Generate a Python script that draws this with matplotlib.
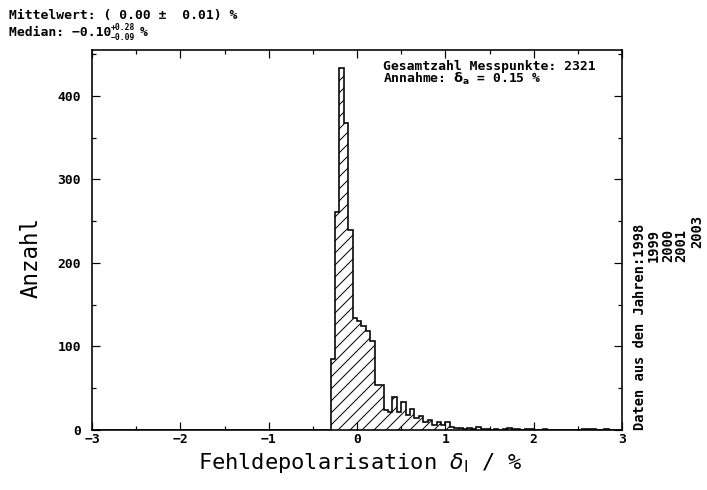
import numpy as np
import matplotlib
matplotlib.use("Agg")
import matplotlib.pyplot as plt
from matplotlib.ticker import MultipleLocator

bin_width = 0.05
x_min, x_max = -3.0, 3.0
first_filled = -0.3
counts_from_first = [
    85, 261, 433, 368, 240, 134, 130, 125, 118, 106,
    54, 54, 24, 22, 39, 22, 33, 18, 25, 14, 17, 9, 12, 6, 10, 6,
    9, 4, 2, 2, 1, 2, 1, 3, 1, 1, 0, 1, 0, 1, 2, 1, 1, 0, 1, 1,
    0, 0, 1, 0, 0, 0, 0, 0, 0, 0, 0, 1, 1, 1, 0, 0, 1, 0, 0, 0,
]
x_ticks = [-3, -2, -1, 0, 1, 2, 3]
x_tick_labels = ["\u22123", "\u22122", "\u22121", "0", "1", "2", "3"]
years = ["1999", "2000", "2001", "2003"]

W, H = 707, 490
DPI = 72


def px(x, y):
    """pixel position (from top-left) -> figure fraction"""
    return x / W, 1 - y / H


edges = np.round(np.arange(x_min, x_max + bin_width / 2, bin_width), 4)
n_empty = int(round((first_filled - x_min) / bin_width))
counts = np.concatenate([np.zeros(n_empty), np.array(counts_from_first, float)])

mono = "DejaVu Sans Mono"
plt.rcParams["hatch.linewidth"] = 1.0
plt.rcParams["mathtext.fontset"] = "dejavusans"
plt.rcParams["font.family"] = mono

fig = plt.figure(figsize=(W / DPI, H / DPI), dpi=DPI)
ax = fig.add_axes([92 / W, 1 - 430 / H, (622 - 92) / W, (430 - 50) / H])

ax.stairs(counts, edges, fill=True, facecolor="white", edgecolor="black",
          hatch="//", linewidth=1.6)

ax.set_xlim(x_min, x_max)
ax.set_ylim(0, 455)
ax.set_xticks(x_ticks)
ax.set_xticklabels(x_tick_labels, fontweight="bold")
ax.xaxis.set_minor_locator(MultipleLocator(0.5))
ax.yaxis.set_major_locator(MultipleLocator(100))
ax.yaxis.set_minor_locator(MultipleLocator(50))
ax.tick_params(which="both", direction="in", top=True, right=True, width=1.2)
ax.tick_params(which="major", length=8)
ax.tick_params(which="minor", length=4)
ax.tick_params(axis="x", labelsize=13, pad=3)
ax.tick_params(axis="y", labelsize=13, pad=11)
for lab in ax.get_yticklabels():
    lab.set_fontweight("bold")
for sp in ax.spines.values():
    sp.set_linewidth(1.6)

# axis titles
fig.text(*px(360, 463), r"Fehldepolarisation $\delta_{\rm l}$ / %", fontsize=22,
         ha="center", va="center")
fig.text(*px(31, 258), "Anzahl", fontsize=22.5, rotation=90,
         ha="center", va="center")

# statistics at the top left
fig.text(*px(9, 15), "Mittelwert: ( 0.00 \u00b1  0.01) %", fontsize=13,
         fontweight="bold", va="center", ha="left")
fig.text(*px(9, 33), "Median: \u22120.10", fontsize=13,
         fontweight="bold", va="center", ha="left")
fig.text(*px(111, 28), "+0.28", fontsize=8, fontweight="bold",
         va="center", ha="left")
fig.text(*px(111, 38), "\u22120.09", fontsize=8, fontweight="bold",
         va="center", ha="left")
fig.text(*px(140, 33), "%", fontsize=13, fontweight="bold",
         va="center", ha="left")

# info box inside the axes
fig.text(*px(383, 66), "Gesamtzahl Messpunkte: 2321", fontsize=13,
         fontweight="bold", va="center", ha="left")
fig.text(*px(383, 79), r"Annahme: $\mathbf{\delta_a}$ = 0.15 %", fontsize=13,
         fontweight="bold", va="center", ha="left")

# data years, rotated at the right
fig.text(*px(640, 430), "Daten aus den Jahren:1998", fontsize=13.8,
         fontweight="bold", rotation=90, ha="center", va="bottom")
year_x = [654, 668, 681, 697]
year_y = [245, 245, 245, 232]
for yr, xx, yy in zip(years, year_x, year_y):
    fig.text(*px(xx, yy), yr, fontsize=13.8, fontweight="bold",
             rotation=90, ha="center", va="center")

fig.savefig("out.png", dpi=DPI)
